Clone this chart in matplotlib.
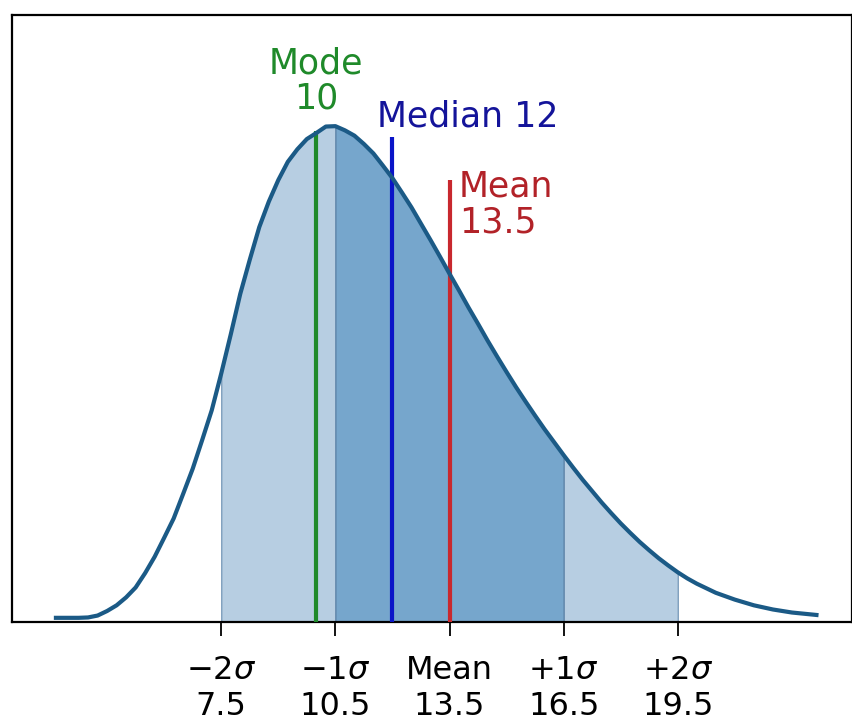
import numpy as np
import matplotlib.pyplot as plt

# Skewed distribution curve (x, density)
x_curve = [3.1, 3.5, 3.75, 4.0, 4.25, 4.5, 4.75, 5.0, 5.25, 5.5, 5.75, 6.0, 6.25,
           6.5, 6.75, 7.0, 7.25, 7.5, 7.75, 8.0, 8.25, 8.5, 8.75, 9.0, 9.25,
           9.5, 9.75, 10.0, 10.25, 10.5, 10.75, 11.0, 11.25, 11.5, 11.75, 12.0,
           12.25, 12.5, 12.75, 13.0, 13.25, 13.5, 13.75, 14.0, 14.25, 14.5,
           14.75, 15.0, 15.25, 15.5, 15.75, 16.0, 16.25, 16.5, 16.75, 17.0,
           17.25, 17.5, 17.75, 18.0, 18.25, 18.5, 18.75, 19.0, 19.25, 19.5,
           19.75, 20.0, 20.5, 21.0, 21.5, 22.0, 22.5, 23.0, 23.2]
y_curve = [0.0011, 0.0011, 0.0011, 0.0012, 0.0017, 0.0029, 0.0044, 0.0065,
           0.0091, 0.0129, 0.0172, 0.0222, 0.0273, 0.0338, 0.0404, 0.0480,
           0.0558, 0.0655, 0.0758, 0.0865, 0.0955, 0.1041, 0.1108, 0.1165,
           0.1213, 0.1246, 0.1273, 0.1289, 0.1306, 0.1307, 0.1296, 0.1282,
           0.1260, 0.1235, 0.1203, 0.1170, 0.1132, 0.1093, 0.1050, 0.1007,
           0.0963, 0.0918, 0.0874, 0.0829, 0.0786, 0.0742, 0.0700, 0.0659,
           0.0619, 0.0581, 0.0544, 0.0508, 0.0474, 0.0440, 0.0407, 0.0375,
           0.0345, 0.0315, 0.0287, 0.0260, 0.0235, 0.0211, 0.0189, 0.0168,
           0.0149, 0.0131, 0.0115, 0.0101, 0.0077, 0.0059, 0.0044, 0.0033,
           0.0025, 0.0020, 0.0018]

mode, median, mean, sigma = 10, 12, 13.5, 3
tick_pos = [7.5, 10.5, 13.5, 16.5, 19.5]
tick_names = [r"$-2\sigma$", r"$-1\sigma$", "Mean", r"$+1\sigma$", r"$+2\sigma$"]

x = np.array(x_curve)
y = np.array(y_curve)

fig = plt.figure(figsize=(8.53, 7.23), dpi=100)
ax = fig.add_axes([12 / 853, 1 - 622 / 723, 840 / 853, 607 / 723])

# shaded bands: +-2 sigma (light) and +-1 sigma (dark)
outer = (x >= mean - 2 * sigma) & (x <= mean + 2 * sigma)
inner = (x >= mean - sigma) & (x <= mean + sigma)
ax.fill_between(x[outer], 0, y[outer], color="#b7cee2", edgecolor="#7f9fbd", lw=1, zorder=1)
ax.fill_between(x[inner], 0, y[inner], color="#76a6cc", edgecolor="#5d84a8", lw=1, zorder=2)

ax.plot(x, y, color="#1b5a86", lw=3, solid_joinstyle="round", solid_capstyle="butt", zorder=4)

# mode / median / mean markers
ax.vlines(mode, 0, 0.1295, color="#1f8a2a", lw=3, zorder=3)
ax.vlines(median, 0, 0.1278, color="#0a14c8", lw=3, zorder=3)
ax.vlines(mean, 0, 0.1165, color="#c8282e", lw=3, zorder=3)

ax.text(mode, 0.1335, f"Mode\n{mode}", color="#1f8a2a", fontsize=25,
        ha="center", va="bottom", linespacing=1.05)
ax.text(median - 0.4, 0.1305, f"Median {median}", color="#14149a", fontsize=25,
        ha="left", va="baseline")
ax.text(mean + 0.25, 0.1007, f"Mean\n{mean}", color="#b22228", fontsize=25,
        ha="left", va="bottom", linespacing=1.1)

ax.set_xlim(2.0, 24.08)
ax.set_ylim(0, 0.16)
ax.set_yticks([])
ax.set_xticks(tick_pos)
ax.set_xticklabels([f"{n}\n{v}" for n, v in zip(tick_names, tick_pos)], fontsize=23)
ax.tick_params(axis="x", length=10, width=1.3, pad=14)
for s in ax.spines.values():
    s.set_linewidth(1.6)

fig.savefig("out.png", dpi=100)
